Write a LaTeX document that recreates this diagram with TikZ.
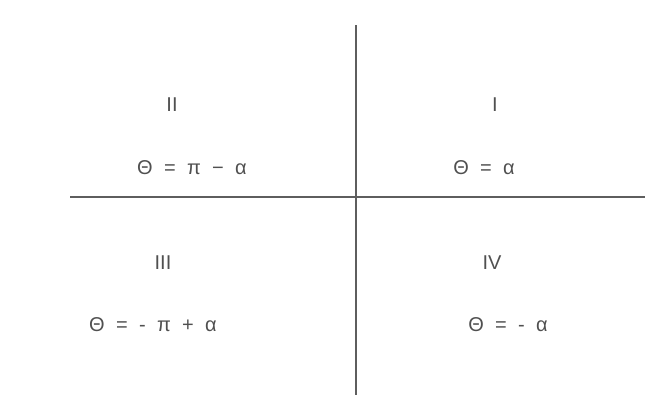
\documentclass[tikz,border=0pt]{standalone}
\usepackage{fontspec}
\setmainfont{Liberation Sans}
\definecolor{axisgray}{HTML}{5E5E5E}
\definecolor{textgray}{HTML}{505050}
\newcommand{\quadfont}{\fontsize{15}{18}\selectfont\setlength{\spaceskip}{8.5pt}}
\tikzset{
	quad/.style={text=textgray,font=\quadfont,inner sep=1pt},
	axis/.style={draw=axisgray,line width=1.5pt}
}
\begin{document}
\begin{tikzpicture}[x=0.75pt,y=-0.75pt,line cap=butt,line join=round]
	\useasboundingbox (0,0) rectangle (671,405);
	\coordinate (top) at (356,25);
	\coordinate (bot) at (356,395);
	\coordinate (lft) at (70,197);
	\coordinate (rgt) at (645,197);
	\draw[axis] (top)--(bot);
	\draw[axis] (lft)--(rgt);
	\node[quad] (q2) at (172,105) {II};
	\node[quad] (q1) at (495,105) {I};
	\node[quad] (q3) at (163,263) {III};
	\node[quad] (q4) at (492,263) {IV};
	\node[quad] (e2) at (192,168) {Θ = π − α};
	\node[quad] (e1) at (484,168) {Θ = α};
	\node[quad] (e3) at (153,325) {Θ = - π + α};
	\node[quad] (e4) at (508,325) {Θ = - α};
\end{tikzpicture}
\end{document}
